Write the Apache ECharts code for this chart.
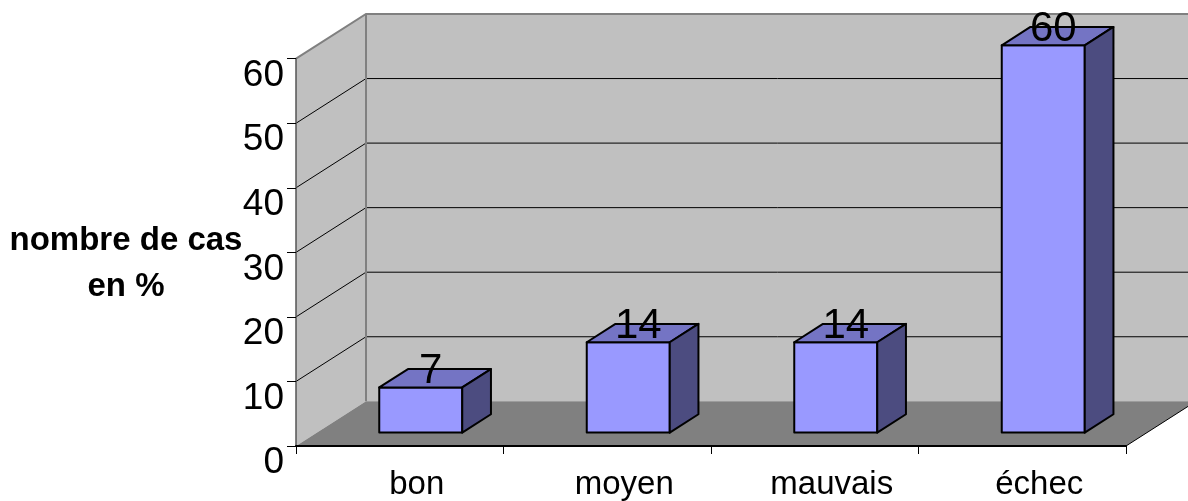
<!DOCTYPE html>
<html>
<head>
<meta charset="utf-8">
<script src="https://cdn.jsdelivr.net/npm/echarts@6/dist/echarts.min.js"></script>
<style>
html, body { margin: 0; padding: 0; background: #fff; }
#main { width: 1188px; height: 501px; }
</style>
</head>
<body>
<div id="main"></div>
<script>
const categories = ['bon', 'moyen', 'mauvais', 'échec']
const values = [7, 14, 14, 60]
const yTicks = [0, 10, 20, 30, 40, 50, 60]

// fake 3d: how far the back wall sits from the front plane (px)
const DX = 70
const DY = -44.7
// bars go from 30% to 71% of the depth, 40% of a category wide
const BAR_D0 = 0.3
const BAR_D1 = 0.71
const BAR_W = 0.4
const FONT = '"Liberation Sans", Arial, sans-serif'

const chart = echarts.init(document.getElementById('main'))

function shift (p, d) {
  return [p[0] + DX * d, p[1] + DY * d]
}

function renderWalls (params, api) {
  const bw = api.size([1, 0])[0]
  const x0 = api.coord([0, 0])[0] - bw / 2
  const x1 = api.coord([categories.length - 1, 0])[0] + bw / 2
  const yBot = api.coord([0, yTicks[0]])[1]
  const yTop = api.coord([0, yTicks[yTicks.length - 1]])[1]
  const tl = shift([x0, yTop], 1)
  const tr = shift([x1, yTop], 1)
  const bl = shift([x0, yBot], 1)
  const br = shift([x1, yBot], 1)
  const children = [
    // back wall
    { type: 'polygon', shape: { points: [tl, tr, br, bl] }, style: { fill: '#c0c0c0' } },
    // left wall
    { type: 'polygon', shape: { points: [[x0, yTop], tl, bl, [x0, yBot]] }, style: { fill: '#c0c0c0' } },
    // floor
    { type: 'polygon', shape: { points: [[x0, yBot], [x1, yBot], br, bl] }, style: { fill: '#808080' } },
    { type: 'line', shape: { x1: x1, y1: yBot, x2: br[0], y2: br[1] }, style: { stroke: '#000', lineWidth: 1 } }
  ]
  yTicks.slice(1, -1).forEach(v => {
    const y = api.coord([0, v])[1]
    children.push({
      type: 'polyline',
      shape: { points: [[x0, y], shift([x0, y], 1), shift([x1, y], 1)] },
      style: { stroke: '#000', lineWidth: 1, fill: null }
    })
  })
  // wall frame
  children.push({ type: 'polyline', shape: { points: [[x0, yTop], tl, tr] }, style: { stroke: '#808080', lineWidth: 2, fill: null } })
  children.push({ type: 'line', shape: { x1: tl[0], y1: tl[1], x2: bl[0], y2: bl[1] }, style: { stroke: '#808080', lineWidth: 2 } })
  return { type: 'group', children }
}

function renderBar (params, api) {
  const i = api.value(0)
  const v = api.value(1)
  const bw = api.size([1, 0])[0] * BAR_W
  const c = api.coord([i, v])
  const b = api.coord([i, 0])
  const xl = c[0] - bw / 2
  const xr = c[0] + bw / 2
  const fTL = shift([xl, c[1]], BAR_D0)
  const fTR = shift([xr, c[1]], BAR_D0)
  const fBL = shift([xl, b[1]], BAR_D0)
  const fBR = shift([xr, b[1]], BAR_D0)
  const kTL = shift([xl, c[1]], BAR_D1)
  const kTR = shift([xr, c[1]], BAR_D1)
  const kBR = shift([xr, b[1]], BAR_D1)
  const edge = { stroke: '#000', lineWidth: 2, lineJoin: 'round' }
  return {
    type: 'group',
    children: [
      { type: 'polygon', shape: { points: [fTL, fTR, fBR, fBL] }, style: Object.assign({ fill: '#9999ff' }, edge) },
      { type: 'polygon', shape: { points: [fTL, kTL, kTR, fTR] }, style: Object.assign({ fill: '#7474c4' }, edge) },
      { type: 'polygon', shape: { points: [fTR, kTR, kBR, fBR] }, style: Object.assign({ fill: '#4c4c80' }, edge) },
      {
        type: 'text',
        x: (fTL[0] + fTR[0]) / 2 + 10,
        y: fTL[1] + 5,
        style: { text: String(v), font: '42px ' + FONT, fill: '#000', align: 'center', verticalAlign: 'bottom' }
      }
    ]
  }
}

chart.setOption({
  animation: false,
  grid: {
    left: 296,
    right: 62,
    top: 58.7,
    bottom: 55
  },
  graphic: [
    {
      type: 'text',
      x: 126,
      y: 264,
      style: {
        text: 'nombre de cas\nen %',
        font: 'bold 33px ' + FONT,
        fill: '#000',
        align: 'center',
        verticalAlign: 'middle',
        lineHeight: 46
      }
    }
  ],
  xAxis: {
    type: 'category',
    data: categories,
    z: 10,
    axisLine: { lineStyle: { color: '#000', width: 2 } },
    axisTick: { show: true, length: 8, lineStyle: { color: '#000' } },
    axisLabel: { fontSize: 33, fontFamily: FONT, color: '#000', margin: 22, padding: [0, 0, 0, 34] },
    splitLine: { show: false }
  },
  yAxis: {
    type: 'value',
    min: 0,
    max: 60,
    interval: 10,
    z: 10,
    axisLine: { show: true, lineStyle: { color: '#555', width: 1.5 } },
    axisTick: { show: true, length: 9, lineStyle: { color: '#000' } },
    axisLabel: { fontSize: 37, fontFamily: FONT, color: '#000', margin: 12, verticalAlign: 'top', lineHeight: 34 },
    splitLine: { show: false }
  },
  series: [
    {
      type: 'custom',
      z: 1,
      clip: false,
      silent: true,
      renderItem: renderWalls,
      data: [[0, 0]]
    },
    {
      type: 'custom',
      z: 3,
      clip: false,
      renderItem: renderBar,
      encode: { x: 0, y: 1 },
      data: values.map((v, i) => [i, v])
    }
  ]
})
</script>
</body>
</html>
